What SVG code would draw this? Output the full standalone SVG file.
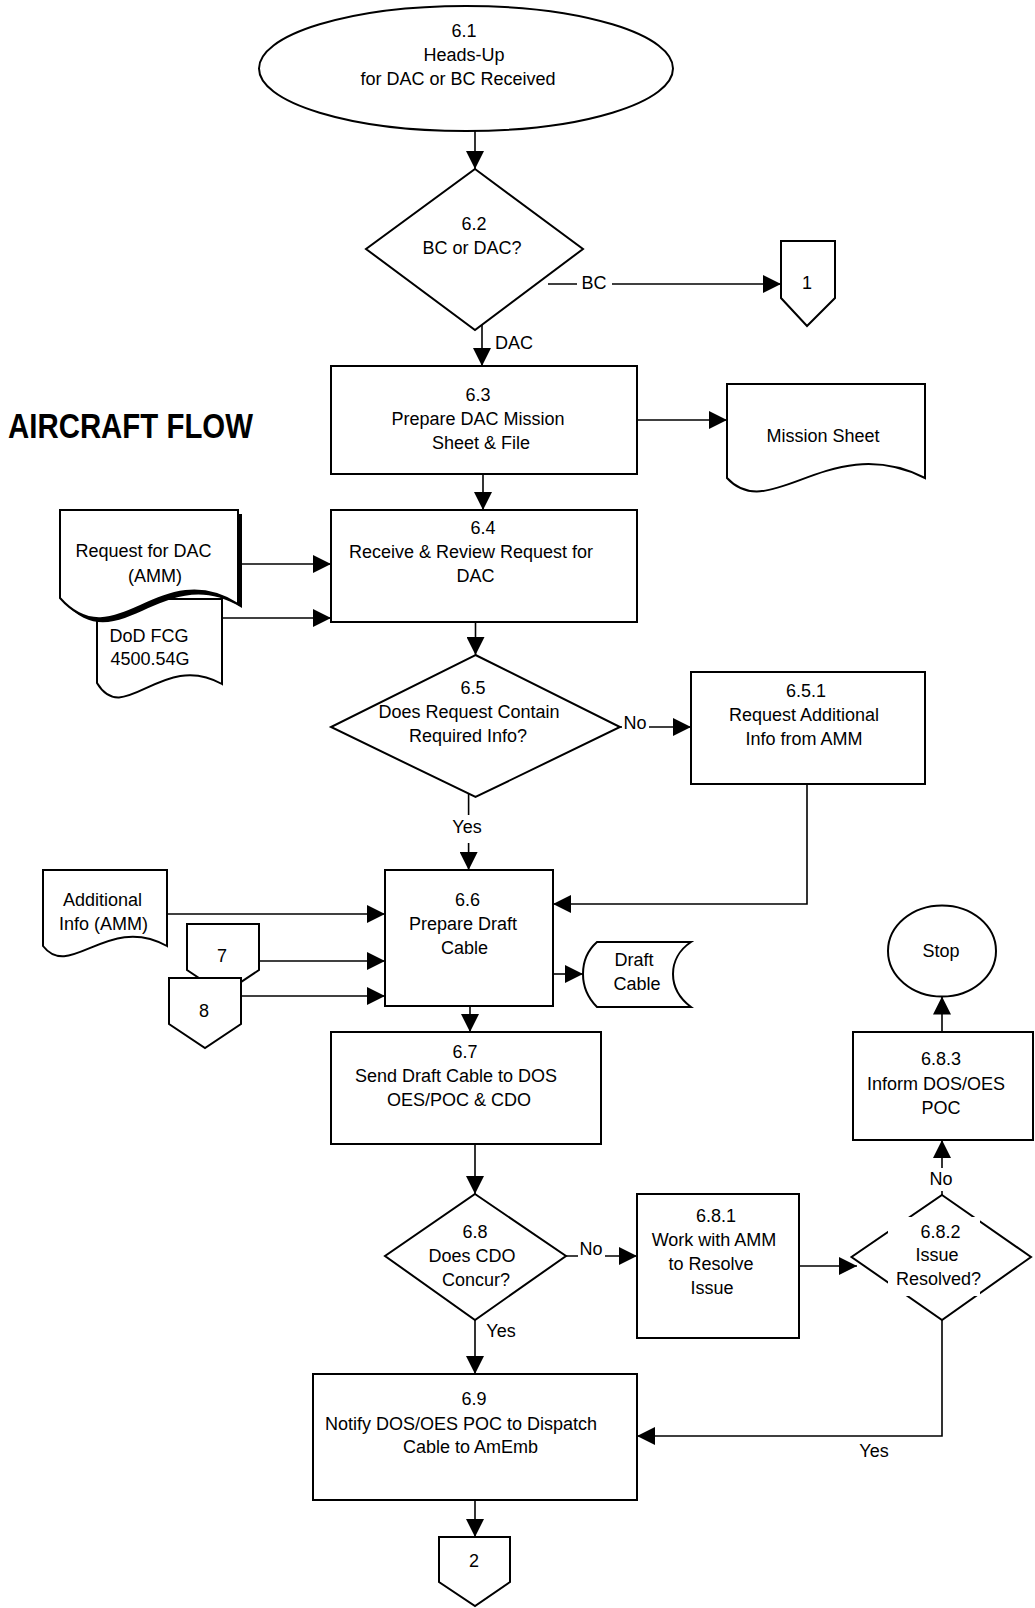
<svg xmlns="http://www.w3.org/2000/svg" width="1035" height="1608" viewBox="0 0 1035 1608">
<defs>
<marker id="ah" markerWidth="18" markerHeight="18" refX="18" refY="9" orient="auto" markerUnits="userSpaceOnUse"><path d="M0,0 L18,9 L0,18 z" fill="#000"/></marker>
<style>
.s{fill:#fff;stroke:#000;stroke-width:2}
.c{fill:none;stroke:#000;stroke-width:1.6}
.a{fill:none;stroke:#000;stroke-width:1.6;marker-end:url(#ah)}
.bg{fill:#fff;stroke:none}
text{font-family:"Liberation Sans",Arial,sans-serif;font-size:18px;fill:#000;text-anchor:middle}
.l{text-anchor:start}
.title{font-weight:bold;font-size:35px;text-anchor:start}
</style>
</defs>
<rect width="1035" height="1608" fill="#fff"/>
<text class="title" x="8" y="438" textLength="245" lengthAdjust="spacingAndGlyphs">AIRCRAFT FLOW</text>

<g id="connectors">
<path class="a" d="M475,131 V169"/>
<path class="a" d="M548,284 H781"/>
<path class="a" d="M482,324 V366"/>
<path class="a" d="M637,420 H727"/>
<path class="a" d="M483,474 V510"/>
<path class="a" d="M242,564 H331"/>
<path class="a" d="M222,618 H331"/>
<path class="a" d="M475.5,622 V655"/>
<path class="a" d="M620,727 H691"/>
<path class="a" d="M468.6,794 V870"/>
<path class="a" d="M807,784 V904 H553"/>
<path class="a" d="M167,914 H385"/>
<path class="a" d="M259,961 H385"/>
<path class="a" d="M241,996 H385"/>
<path class="a" d="M553,974 H583"/>
<path class="a" d="M470,1006 V1032"/>
<path class="a" d="M475,1144 V1194"/>
<path class="a" d="M566,1256 H637"/>
<path class="a" d="M799,1266 H857"/>
<path class="a" d="M942,1195 V1140"/>
<path class="a" d="M942,1032 V996.5"/>
<path class="a" d="M942,1320 V1436 H637"/>
<path class="a" d="M475,1320 V1374"/>
<path class="a" d="M475,1500 V1537"/>
<rect class="bg" x="577" y="272" width="35" height="22"/>
<text x="594" y="289">BC</text>
<text class="l" x="495" y="349">DAC</text>
<rect class="bg" x="622" y="714" width="27" height="20"/>
<text x="635" y="729">No</text>
<rect class="bg" x="449" y="815" width="38" height="28"/>
<text x="467" y="833">Yes</text>
<rect class="bg" x="578" y="1240" width="27" height="20"/>
<text x="591" y="1255">No</text>
<rect class="bg" x="928" y="1168" width="27" height="23"/>
<text x="941" y="1185">No</text>
<text x="874" y="1457">Yes</text>
<text x="501" y="1337">Yes</text>
</g>

<g id="n61">
<ellipse class="s" cx="466" cy="68.5" rx="207" ry="62.5"/>
<text x="464" y="37">6.1</text>
<text x="464" y="61">Heads-Up</text>
<text x="458" y="85">for DAC or BC Received</text>
</g>

<g id="n62">
<polygon class="s" points="475,169 583,249 475,330 366,249"/>
<text x="474" y="230">6.2</text>
<text x="472" y="254">BC or DAC?</text>
</g>

<g id="c1">
<polygon class="s" points="781,241 835,241 835,298 807,326 781,298"/>
<text x="807" y="289">1</text>
</g>

<g id="n63">
<rect class="s" x="331" y="366" width="306" height="108"/>
<text x="478" y="401">6.3</text>
<text x="478" y="425">Prepare DAC Mission</text>
<text x="481" y="449">Sheet &amp; File</text>
</g>

<g id="mission">
<path class="s" d="M727,384 H925 V478 C830,430 770,525 727,478 Z"/>
<text x="823" y="442">Mission Sheet</text>
</g>

<g id="dod">
<path class="s" d="M97,599 H222 V684 C162,650 124,728 97,683 Z"/>
<text x="149" y="642">DoD FCG</text>
<text x="150" y="665">4500.54G</text>
</g>

<g id="request">
<path d="M64,514 H242 V608 C164,559 119,664 64,602 Z" fill="#000"/>
<path class="s" d="M60,510 H238 V604 C160,555 115,660 60,598 Z"/>
<text x="143.5" y="557">Request for DAC</text>
<text x="155" y="582">(AMM)</text>
</g>

<g id="n64">
<rect class="s" x="331" y="510" width="306" height="112"/>
<text x="483" y="534">6.4</text>
<text x="471" y="558">Receive &amp; Review Request for</text>
<text x="475.5" y="582">DAC</text>
</g>

<g id="n65">
<polygon class="s" points="475.5,655 620,727 475.5,797 331,727"/>
<text x="473" y="694">6.5</text>
<text x="469" y="718">Does Request Contain</text>
<text x="468" y="742">Required Info?</text>
</g>

<g id="n651">
<rect class="s" x="691" y="672" width="234" height="112"/>
<text x="806" y="697">6.5.1</text>
<text x="804" y="721">Request Additional</text>
<text x="804" y="745">Info from AMM</text>
</g>

<g id="addinfo">
<path class="s" d="M43,870 H167 V946 C108,913 70,981 43,946 Z"/>
<text x="102.5" y="906">Additional</text>
<text x="103.5" y="930">Info (AMM)</text>
</g>

<g id="c7">
<polygon class="s" points="187,924 259,924 259,970 223,994 187,970"/>
<text x="222" y="962">7</text>
</g>

<g id="c8">
<polygon class="s" points="169,978 241,978 241,1024 205,1048 169,1024"/>
<text x="204" y="1017">8</text>
</g>

<g id="n66">
<rect class="s" x="385" y="870" width="168" height="136"/>
<text x="467.6" y="906">6.6</text>
<text x="463" y="930">Prepare Draft</text>
<text x="464.6" y="954">Cable</text>
</g>

<g id="draft">
<path class="s" d="M597,942 H691 C679,950 673,962 673,974 C673,986 679,998 691,1007 H597 C588,998 583,986 583,974 C583,962 588,950 597,942 Z"/>
<text x="634" y="966">Draft</text>
<text x="637" y="990">Cable</text>
</g>

<g id="n67">
<rect class="s" x="331" y="1032" width="270" height="112"/>
<text x="465" y="1057.5">6.7</text>
<text x="456" y="1082">Send Draft Cable to DOS</text>
<text x="459" y="1105.5">OES/POC &amp; CDO</text>
</g>

<g id="stop">
<ellipse class="s" cx="942" cy="951" rx="54" ry="45.5"/>
<text x="941" y="957">Stop</text>
</g>

<g id="n683">
<rect class="s" x="853" y="1032" width="180" height="108"/>
<text x="941" y="1065">6.8.3</text>
<text x="936" y="1090">Inform DOS/OES</text>
<text x="941" y="1114">POC</text>
</g>

<g id="n68">
<polygon class="s" points="475,1194 566,1256 475,1320 385,1256"/>
<text x="475" y="1238">6.8</text>
<text x="472" y="1262">Does CDO</text>
<text x="476" y="1286">Concur?</text>
</g>

<g id="n681">
<rect class="s" x="637" y="1194" width="162" height="144"/>
<text x="716" y="1222">6.8.1</text>
<text x="714" y="1246">Work with AMM</text>
<text x="711" y="1270">to Resolve</text>
<text x="712" y="1294">Issue</text>
</g>

<g id="n682">
<polygon class="s" points="942,1195 1031,1257 942,1320 851.5,1257"/>
<rect class="bg" x="888" y="1217" width="92" height="79"/>
<text x="940.6" y="1237.5">6.8.2</text>
<text x="937" y="1261">Issue</text>
<text x="938.6" y="1285">Resolved?</text>
</g>

<g id="n69">
<rect class="s" x="313" y="1374" width="324" height="126"/>
<text x="474" y="1405">6.9</text>
<text x="461" y="1429.5">Notify DOS/OES POC to Dispatch</text>
<text x="470.5" y="1453">Cable to AmEmb</text>
</g>

<g id="c2">
<polygon class="s" points="439,1537 510,1537 510,1582 475,1606 439,1582"/>
<text x="474" y="1567">2</text>
</g>
</svg>
